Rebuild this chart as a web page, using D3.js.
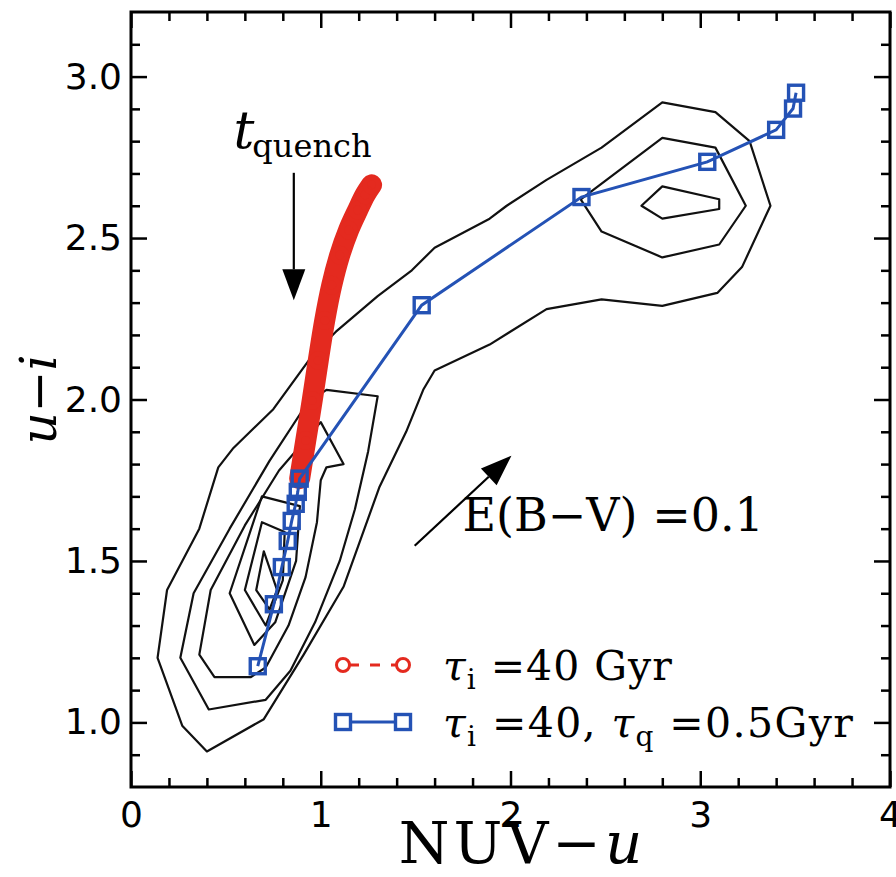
<!DOCTYPE html>
<html>
<head>
<meta charset="utf-8">
<script src="https://cdn.jsdelivr.net/npm/d3@7"></script>
<style>
body { margin: 0; background: #fff; }
</style>
</head>
<body>
<div id="chart"></div>
<script>
// ticks
var xTicks = [0, 1, 2, 3, 4];
var xMinorTicks = [0.2, 0.4, 0.6, 0.8, 1.2, 1.4, 1.6, 1.8, 2.2, 2.4, 2.6, 2.8, 3.2, 3.4, 3.6, 3.8];
var yTicks = [1.0, 1.5, 2.0, 2.5, 3.0];
var yMinorTicks = [0.9, 1.1, 1.2, 1.3, 1.4, 1.6, 1.7, 1.8, 1.9, 2.1, 2.2, 2.3, 2.4, 2.6, 2.7, 2.8, 2.9, 3.1];

// contour levels (NUV-u, u-i)
var outerLevel = [[0.40,0.91],[0.27,0.99],[0.14,1.20],[0.19,1.41],[0.36,1.60],[0.46,1.79],[0.54,1.85],
  [0.75,1.97],[0.96,2.14],[1.08,2.21],[1.30,2.32],[1.48,2.40],[1.60,2.47],[1.89,2.56],[1.98,2.60],
  [2.19,2.68],[2.48,2.78],[2.80,2.92],[3.08,2.89],[3.26,2.80],[3.37,2.60],[3.22,2.41],[3.09,2.33],
  [2.80,2.29],[2.48,2.31],[2.19,2.28],[1.89,2.17],[1.60,2.09],[1.54,2.03],[1.45,1.90],[1.31,1.73],
  [1.12,1.42],[0.91,1.21],[0.70,1.01]];
var leftLevel2 = [[0.41,1.04],[0.26,1.20],[0.33,1.40],[0.52,1.60],[0.73,1.81],[0.93,1.99],[1.03,2.03],
  [1.30,2.01],[1.25,1.84],[1.18,1.66],[1.10,1.50],[0.97,1.31],[0.84,1.16],[0.71,1.07]];
var leftLevel3 = [[0.44,1.14],[0.36,1.21],[0.42,1.41],[0.60,1.61],[0.78,1.78],[1.00,1.93],[1.12,1.80],
  [1.03,1.79],[1.00,1.75],[0.98,1.62],[0.92,1.45],[0.83,1.30],[0.71,1.17],[0.63,1.14]];
var leftLevel4 = [[0.52,1.40],[0.69,1.70],[0.89,1.67],[0.87,1.50],[0.76,1.31],[0.65,1.24]];
var leftLevel5 = [[0.60,1.41],[0.69,1.62],[0.81,1.59],[0.80,1.44],[0.71,1.30]];
var leftCore = [[0.70,1.53],[0.77,1.41],[0.73,1.35],[0.66,1.41]];
var rightLevel2 = [[2.80,2.81],[3.08,2.78],[3.24,2.60],[3.10,2.48],[2.80,2.44],[2.48,2.52],[2.37,2.62]];
var rightCore = [[2.80,2.66],[3.10,2.62],[3.10,2.59],[2.80,2.56],[2.69,2.60]];
var contours = [outerLevel, leftLevel2, leftLevel3, leftLevel4, leftLevel5, leftCore, rightLevel2, rightCore];

// model tracks
var tauI40 = [[0.889,1.755],[0.921,1.873],[0.955,1.997],[0.987,2.121],[1.021,2.245],[1.058,2.354],
  [1.100,2.447],[1.147,2.525],[1.195,2.587],[1.234,2.634],[1.268,2.665]];
var tauQ05 = [[0.668,1.174],[0.753,1.366],[0.795,1.481],[0.826,1.562],[0.847,1.624],[0.868,1.677],
  [0.879,1.714],[0.889,1.755],[1.532,2.292],[2.374,2.627],[3.037,2.736],[3.400,2.835],[3.489,2.901],[3.505,2.950]];

// annotations
var quenchArrow = [[0.858,2.702],[0.858,2.307]];
var reddenArrow = [[1.495,1.547],[2.005,1.826]];

var red = "#e42a1f", blue = "#2452b5";
var serif = "DejaVu Serif", sans = "DejaVu Sans";

var margin = {top: 12, right: 6, bottom: 90, left: 131},
    width = 896 - margin.left - margin.right,
    height = 877 - margin.top - margin.bottom;

var svg = d3.select("#chart").append("svg")
    .attr("width", 896)
    .attr("height", 877);

var g = svg.append("g")
    .attr("transform", "translate(" + margin.left + "," + margin.top + ")");

var x = d3.scaleLinear().domain([0, 4]).range([0, width]);
var y = d3.scaleLinear().domain([0.8, 3.2]).range([height, 0]);

// contours
var ring = d3.line().x(d => x(d[0])).y(d => y(d[1])).curve(d3.curveLinearClosed);
contours.forEach(function(c) {
  g.append("path")
   .attr("d", ring(c))
   .attr("fill", "none")
   .attr("stroke", "#111")
   .attr("stroke-width", 2.2)
   .attr("stroke-linejoin", "round");
});

// red track: markers so dense they merge into a band
var track = d3.line().x(d => x(d[0])).y(d => y(d[1])).curve(d3.curveCatmullRom);
g.append("path")
 .attr("d", track(tauI40))
 .attr("fill", "none")
 .attr("stroke", red)
 .attr("stroke-width", 21)
 .attr("stroke-linecap", "round")
 .attr("stroke-linejoin", "round");
g.selectAll(".redpt")
 .data(tauI40)
 .enter().append("circle")
 .attr("class", "redpt")
 .attr("cx", d => x(d[0]))
 .attr("cy", d => y(d[1]))
 .attr("r", 7)
 .attr("fill", "none")
 .attr("stroke", red)
 .attr("stroke-width", 5);

// blue track
var poly = d3.line().x(d => x(d[0])).y(d => y(d[1]));
g.append("path")
 .attr("d", poly(tauQ05))
 .attr("fill", "none")
 .attr("stroke", blue)
 .attr("stroke-width", 3);
g.selectAll(".bluept")
 .data(tauQ05)
 .enter().append("rect")
 .attr("class", "bluept")
 .attr("x", d => x(d[0]) - 7.5)
 .attr("y", d => y(d[1]) - 7.5)
 .attr("width", 15)
 .attr("height", 15)
 .attr("fill", "none")
 .attr("stroke", blue)
 .attr("stroke-width", 3.4);

// arrows
function arrow(p0, p1) {
  var ax = x(p0[0]), ay = y(p0[1]), bx = x(p1[0]), by = y(p1[1]);
  var dx = bx - ax, dy = by - ay, len = Math.hypot(dx, dy), ux = dx / len, uy = dy / len;
  var hl = 31, hw = 11.5;
  var cx = bx - ux * hl, cy = by - uy * hl;
  g.append("line")
   .attr("x1", ax).attr("y1", ay).attr("x2", cx).attr("y2", cy)
   .attr("stroke", "#000").attr("stroke-width", 2.2);
  g.append("path")
   .attr("d", "M" + bx + "," + by + "L" + (cx - uy * hw) + "," + (cy + ux * hw) +
              "L" + (cx + uy * hw) + "," + (cy - ux * hw) + "Z")
   .attr("fill", "#000");
}
arrow(quenchArrow[0], quenchArrow[1]);
arrow(reddenArrow[0], reddenArrow[1]);

// t_quench label
var tq = g.append("text")
  .attr("x", x(0.54)).attr("y", y(2.78))
  .attr("font-family", serif);
tq.append("tspan").attr("font-size", 52).attr("font-style", "italic").text("t");
tq.append("tspan").attr("font-size", 32).attr("dy", 9).attr("dx", -2).text("quench");

// E(B-V) label
g.append("text")
 .attr("x", x(1.747)).attr("y", y(1.593))
 .attr("font-family", serif)
 .attr("font-size", 46)
 .text("E(B\u2212V) =0.1");

// axes
function styleAxis(sel) {
  sel.select(".domain").remove();
  sel.selectAll(".tick line").attr("stroke", "#000").attr("stroke-width", 2.5);
  sel.selectAll(".tick text")
     .attr("font-family", sans)
     .attr("font-size", 36)
     .attr("fill", "#000");
}

g.append("g")
 .attr("transform", "translate(0," + height + ")")
 .call(d3.axisBottom(x).tickValues(xTicks).tickSize(-16).tickPadding(14).tickFormat(d3.format("d")))
 .call(styleAxis);
g.append("g")
 .attr("transform", "translate(0," + height + ")")
 .call(d3.axisBottom(x).tickValues(xMinorTicks).tickSize(-9).tickFormat(""))
 .call(styleAxis);
g.append("g")
 .call(d3.axisTop(x).tickValues(xTicks).tickSize(-16).tickFormat(""))
 .call(styleAxis);
g.append("g")
 .call(d3.axisTop(x).tickValues(xMinorTicks).tickSize(-9).tickFormat(""))
 .call(styleAxis);
g.append("g")
 .call(d3.axisLeft(y).tickValues(yTicks).tickSize(-16).tickPadding(9).tickFormat(d3.format(".1f")))
 .call(styleAxis);
g.append("g")
 .call(d3.axisLeft(y).tickValues(yMinorTicks).tickSize(-9).tickFormat(""))
 .call(styleAxis);
g.append("g")
 .attr("transform", "translate(" + width + ",0)")
 .call(d3.axisRight(y).tickValues(yTicks).tickSize(-16).tickFormat(""))
 .call(styleAxis);
g.append("g")
 .attr("transform", "translate(" + width + ",0)")
 .call(d3.axisRight(y).tickValues(yMinorTicks).tickSize(-9).tickFormat(""))
 .call(styleAxis);

g.append("rect")
 .attr("width", width).attr("height", height)
 .attr("fill", "none").attr("stroke", "#000").attr("stroke-width", 3);

// axis labels
var xl = g.append("text")
  .attr("x", width / 2 + 12).attr("y", height + 76)
  .attr("text-anchor", "middle")
  .attr("font-family", serif).attr("font-size", 58)
  .attr("letter-spacing", 4);
xl.append("tspan").text("NUV\u2212");
xl.append("tspan").attr("font-style", "italic").text("u");

var yl = g.append("text")
  .attr("transform", "translate(-75," + height / 2 + ") rotate(-90)")
  .attr("text-anchor", "middle")
  .attr("font-family", serif).attr("font-size", 50);
yl.append("tspan").attr("font-style", "italic").text("u");
yl.append("tspan").text("\u2212");
yl.append("tspan").attr("font-style", "italic").text("i");

// legend
var leg = g.append("g");
var l1 = 653, l2 = 710, hx0 = 212, hx1 = 272, tx = 312;
leg.append("line")
   .attr("x1", hx0).attr("x2", hx1).attr("y1", l1).attr("y2", l1)
   .attr("stroke", red).attr("stroke-width", 3).attr("stroke-dasharray", "10,11")
   .attr("stroke-dashoffset", -6);
[hx0, hx1].forEach(function(px) {
  leg.append("circle").attr("cx", px).attr("cy", l1).attr("r", 6.5)
     .attr("fill", "#fff").attr("stroke", red).attr("stroke-width", 3);
});
leg.append("line")
   .attr("x1", hx0).attr("x2", hx1).attr("y1", l2).attr("y2", l2)
   .attr("stroke", blue).attr("stroke-width", 3);
[hx0, hx1].forEach(function(px) {
  leg.append("rect").attr("x", px - 7.5).attr("y", l2 - 7.5).attr("width", 15).attr("height", 15)
     .attr("fill", "#fff").attr("stroke", blue).attr("stroke-width", 3.4);
});

function tau(textSel, sub) {
  textSel.append("tspan").attr("font-style", "italic").text("\u03c4");
  textSel.append("tspan").attr("font-size", 28).attr("dy", 9).text(sub);
  textSel.append("tspan").attr("dy", -9).text(" ");
}
var t1 = leg.append("text").attr("x", tx).attr("y", l1 + 15)
  .attr("font-family", serif).attr("font-size", 41).attr("letter-spacing", 1);
tau(t1, "i");
t1.append("tspan").text("=40 Gyr");

var t2 = leg.append("text").attr("x", tx).attr("y", l2 + 15)
  .attr("font-family", serif).attr("font-size", 41).attr("letter-spacing", 1.4);
tau(t2, "i");
t2.append("tspan").text("=40, ");
tau(t2, "q");
t2.append("tspan").text("=0.5Gyr");
</script>
</body>
</html>
